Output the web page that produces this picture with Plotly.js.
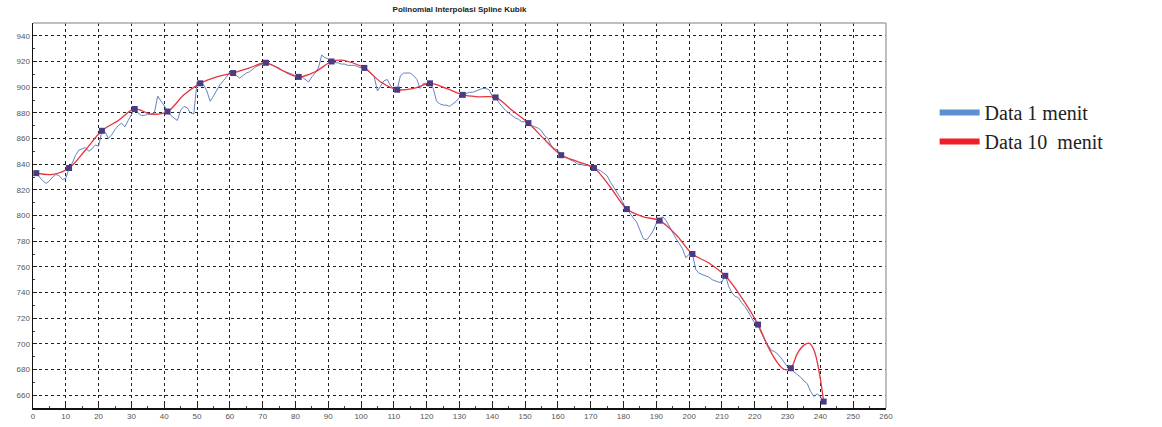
<!DOCTYPE html>
<html>
<head>
<meta charset="utf-8">
<script src="https://cdn.plot.ly/plotly-3.0.1.min.js"></script>
<style>html,body{margin:0;padding:0;background:#fff;}#chart{width:1162px;height:427px;}</style>
</head>
<body>
<div id="chart"></div>
<script>
// Data 1 menit (minute 1..241)
const minuteX = Array.from({length: 241}, (_, i) => i + 1);
const data1Menit = [
833,830,827,825,827,830,832,831,828,829,
837,841,847,851,852,853,850,852,855,854,
866,865,860,863,867,870,872,869,874,879,
883,880,878,878,879,879,880,893,889,886,
881,878,876,874,882,885,884,880,879,904,
903,902,897,889,893,898,902,905,908,912,
911,909,907,909,911,912,914,916,917,918,
919,918,917,916,915,913,912,911,910,909,
908,908,906,904,908,911,915,925,923,922,
920,919,919,918,918,917,917,917,916,915,
915,913,911,908,897,901,905,906,901,899,
898,909,911,911,911,909,906,899,903,903,
903,899,889,887,886,886,885,887,889,892,
894,895,896,896,897,898,899,899,898,893,
892,888,885,882,880,878,876,875,873,873,
872,870,869,868,866,862,860,854,852,851,
847,846,845,843,842,840,840,839,839,838,
837,836,835,833,831,826,822,819,814,809,
805,801,798,795,789,782,781,784,788,794,
797,799,796,791,787,782,778,774,767,770,
770,758,755,754,753,752,750,749,748,748,
754,745,740,737,736,732,729,725,720,716,
714,708,703,699,695,694,692,689,685,682,
681,678,676,674,671,669,663,659,661,659,
655
];

// Data 10 menit (sample points)
const tenMinX = [1,11,21,31,41,51,61,71,81,91,101,111,121,131,141,151,161,171,181,191,201,211,221,231,241];
const data10Menit = [833,837,866,883,881,903,911,919,908,920,915,898,903,894,892,872,847,837,805,796,770,753,715,681,655];

// Spline curve
const splineX = [1,6,11,16,21,26,31,36,41,46,51,56,61,66,71,76,81,86,91,94,96,101,106,111,116,121,126,131,136,141,146,151,156,161,166,171,176,181,186,191,196,201,206,211,216,221,224,227,229,231,233,235,236.7,238.2,239.7,241];
const splineY = [833,832,837,851,866,874,883,879,881,894,903,908,911,915,919,913,908,912,920,921,920,915,904,898,899,903,899,894,892.5,892,882,872,859,847,842,837,822,805,799,796,785,770,763,753,736,715,698,685,680,681,692.6,699,700.4,694,677,655];

const xTicks = [0,10,20,30,40,50,60,70,80,90,100,110,120,130,140,150,160,170,180,190,200,210,220,230,240,250,260];
const yTicks = [660,680,700,720,740,760,780,800,820,840,860,880,900,920,940];

const titleText = 'Polinomial Interpolasi Spline Kubik';
const legend1 = 'Data 1 menit';
const legend2 = 'Data 10  menit';

const traces = [
  {x: minuteX, y: data1Menit, type: 'scatter', mode: 'lines',
   line: {color: '#6283c4', width: 1}, showlegend: false, hoverinfo: 'skip'},
  {x: splineX, y: splineY, type: 'scatter', mode: 'lines',
   line: {color: '#e8343c', width: 1.3, shape: 'spline', smoothing: 1}, showlegend: false},
  {x: tenMinX, y: data10Menit, type: 'scatter', mode: 'markers',
   marker: {color: '#4a3b82', size: 6, symbol: 'square'}, showlegend: false},
  {x: [null], y: [null], type: 'scatter', mode: 'lines', name: legend1,
   line: {color: '#5b8fd0', width: 6}},
  {x: [null], y: [null], type: 'scatter', mode: 'lines', name: legend2,
   line: {color: '#ee1f26', width: 6}}
];

const axisCommon = {
  showgrid: true, gridcolor: '#222', gridwidth: 1, griddash: '3px,3px',
  zeroline: false, showline: true, linecolor: '#111', linewidth: 1.5,
  ticks: 'inside', ticklen: 4, tickcolor: '#222',
  tickfont: {family: 'Liberation Sans, Arial', size: 8, color: '#555'}
};

const layout = {
  width: 1162, height: 427,
  margin: {l: 33, r: 276, t: 23, b: 19},
  paper_bgcolor: '#fff', plot_bgcolor: '#fff',
  title: {text: '<b>' + titleText + '</b>', x: 0.5, xref: 'paper', y: 0.985, yanchor: 'top',
          font: {family: 'Liberation Sans, Arial', size: 8, color: '#222'}},
  xaxis: Object.assign({}, axisCommon, {range: [0, 260], tickvals: xTicks, ticktext: xTicks.map(String),
          minor: {ticks: 'inside', ticklen: 2, tickcolor: '#444', showgrid: false, dtick: 5}}),
  yaxis: Object.assign({}, axisCommon, {range: [650, 950], tickvals: yTicks, ticktext: yTicks.map(String),
          minor: {ticks: 'inside', ticklen: 2, tickcolor: '#444', showgrid: false, dtick: 10}}),
  legend: {x: 1.057, xanchor: 'left', y: 0.818, yanchor: 'top', itemwidth: 40,
           font: {family: 'Liberation Serif, Times New Roman, serif', size: 20, color: '#222'},
           bgcolor: 'rgba(0,0,0,0)', tracegroupgap: 0},
  shapes: [
    {type: 'line', xref: 'paper', yref: 'paper', x0: 0, x1: 1, y0: 1, y1: 1, line: {color: '#aaa', width: 1.5}},
    {type: 'line', xref: 'paper', yref: 'paper', x0: 1, x1: 1, y0: 0, y1: 1, line: {color: '#aaa', width: 1.5}}
  ]
};

Plotly.newPlot('chart', traces, layout, {displayModeBar: false, staticPlot: true});
</script>
</body>
</html>
